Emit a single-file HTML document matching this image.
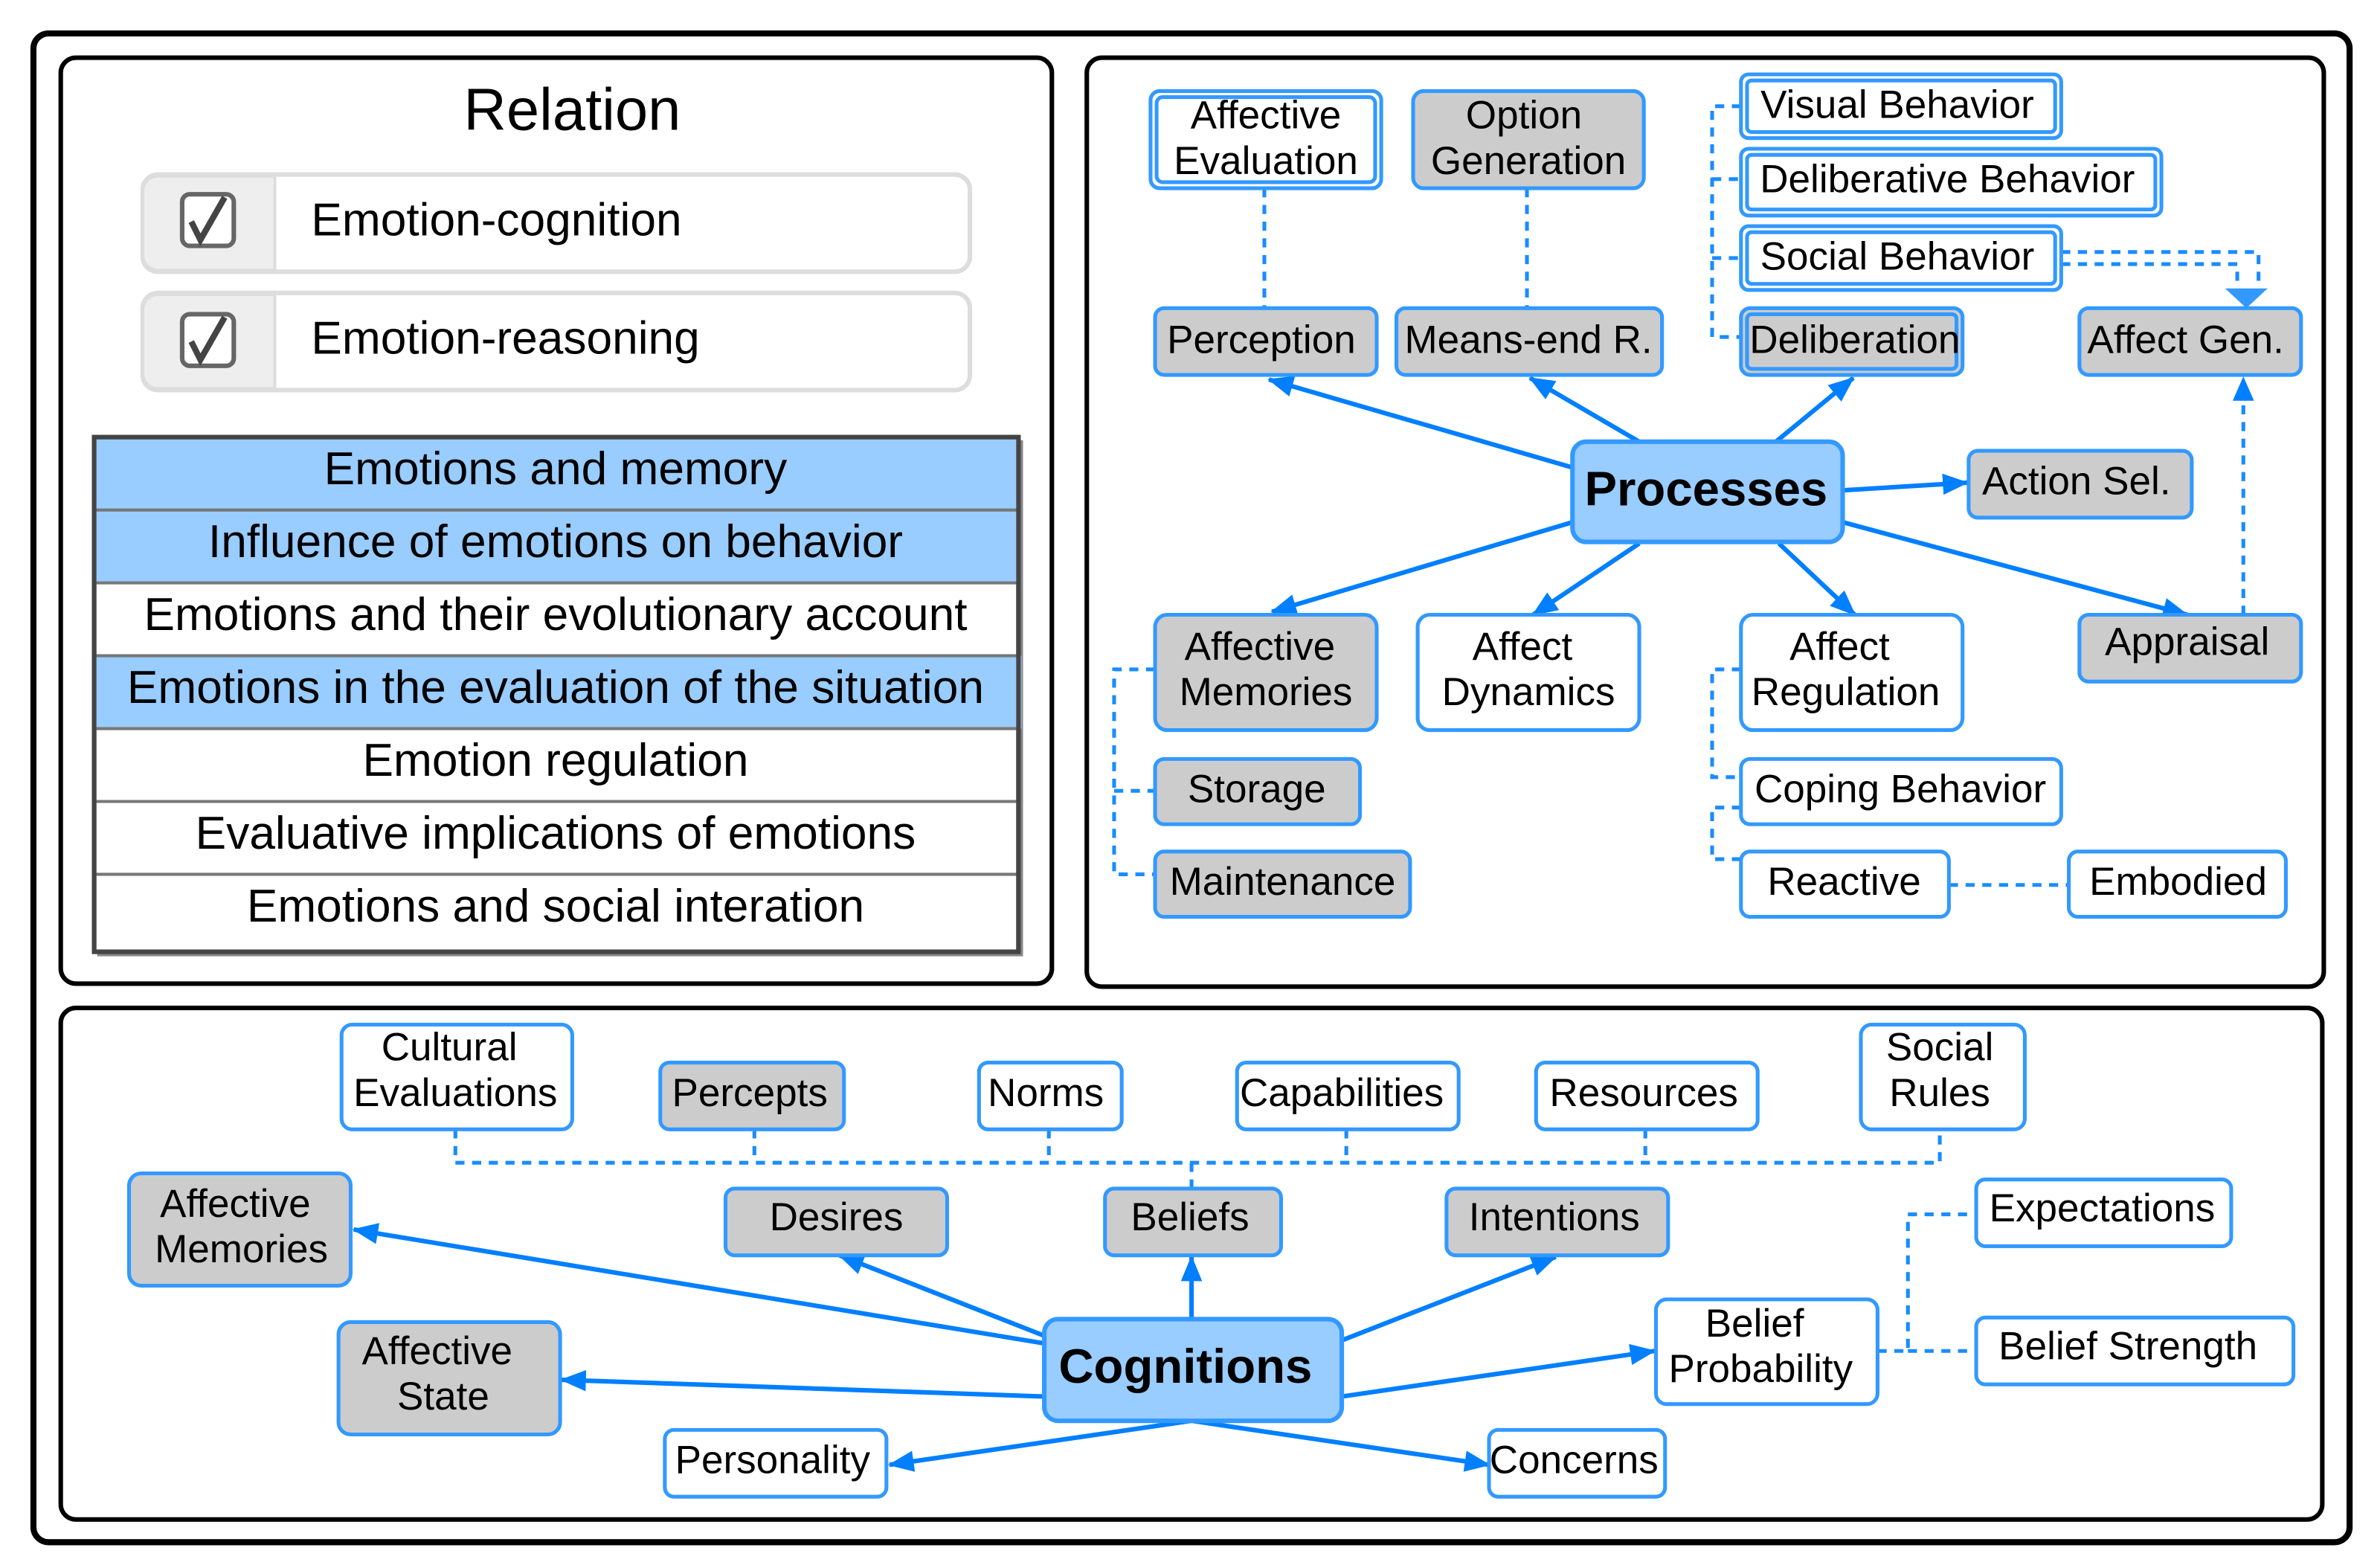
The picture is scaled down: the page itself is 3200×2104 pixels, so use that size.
<!DOCTYPE html>
<html><head><meta charset="utf-8"><style>
html,body{margin:0;padding:0;background:#fff}
svg{display:block}
text{font-family:"Liberation Sans",Arial,sans-serif;fill:#000}
.b{fill:#fff;stroke:#3399ff;stroke-width:2.5}
.g{fill:#cccccc;stroke:#3399ff;stroke-width:2.5}
.l{fill:#99ccff;stroke:#3399ff;stroke-width:3}
.e{stroke:#007fff;stroke-width:3;fill:none}
.d{stroke:#1a8cff;stroke-width:2.5;fill:none;stroke-dasharray:6 5}
.t{font-size:26px;text-anchor:middle;dominant-baseline:central}
.r{font-size:30.5px;text-anchor:middle;dominant-baseline:central}
</style></head><body>
<svg width="3200" height="2104" viewBox="0 0 1568 1031" xmlns="http://www.w3.org/2000/svg">
<defs>
<marker id="a" markerUnits="userSpaceOnUse" markerWidth="18" markerHeight="14" refX="16" refY="7" orient="auto"><path d="M0,0 L17,7 L0,14 Z" fill="#007fff"/></marker>
</defs>
<rect x="22" y="22" width="1526" height="994" rx="10" fill="#fff" stroke="#000" stroke-width="4"/>
<rect x="40" y="38" width="653" height="610" rx="10" fill="#fff" stroke="#000" stroke-width="3"/>
<rect x="716" y="38" width="815" height="612" rx="10" fill="#fff" stroke="#000" stroke-width="3"/>
<rect x="40" y="664" width="1490" height="337" rx="10" fill="#fff" stroke="#000" stroke-width="3"/>

<text x="377" y="72" style="font-size:39px;text-anchor:middle;dominant-baseline:central">Relation</text>
<g>
<rect x="94" y="115" width="545" height="64" rx="10" fill="#fff" stroke="#ddd" stroke-width="3"/>
<path d="M181,116 V178 H104 a10,10 0 0 1 -10,-10 V126 a10,10 0 0 1 10,-10 Z" fill="#eee" stroke="#ddd" stroke-width="2"/>
<rect x="120" y="128" width="34" height="34" rx="5" fill="#fff" stroke="#666" stroke-width="3"/>
<path d="M126,146 L132,158 L148,130" stroke="#444" stroke-width="4" fill="none"/>
<text x="205" y="145" style="font-size:30.5px;dominant-baseline:central">Emotion-cognition</text>
<rect x="94" y="193" width="545" height="64" rx="10" fill="#fff" stroke="#ddd" stroke-width="3"/>
<path d="M181,194 V256 H104 a10,10 0 0 1 -10,-10 V204 a10,10 0 0 1 10,-10 Z" fill="#eee" stroke="#ddd" stroke-width="2"/>
<rect x="120" y="207" width="34" height="34" rx="5" fill="#fff" stroke="#666" stroke-width="3"/>
<path d="M126,225 L132,237 L148,209" stroke="#444" stroke-width="4" fill="none"/>
<text x="205" y="223" style="font-size:30.5px;dominant-baseline:central">Emotion-reasoning</text>
</g>
<rect x="64" y="290" width="610" height="340" fill="#888"/>
<rect x="62" y="288" width="609" height="339" fill="#fff" stroke="#444" stroke-width="3"/>
<rect x="62" y="288" width="609" height="48" fill="#99ccff"/>
<rect x="62" y="336" width="609" height="48" fill="#99ccff"/>
<rect x="62" y="432" width="611" height="48" fill="#99ccff"/>
<g stroke="#777" stroke-width="2">
<line x1="62" y1="336" x2="671" y2="336"/><line x1="62" y1="384" x2="671" y2="384"/>
<line x1="62" y1="432" x2="671" y2="432"/><line x1="62" y1="480" x2="671" y2="480"/>
<line x1="62" y1="528" x2="671" y2="528"/><line x1="62" y1="576" x2="671" y2="576"/>
</g>
<rect x="62" y="288" width="609" height="339" fill="none" stroke="#444" stroke-width="3"/>
<text class="r" x="366" y="309">Emotions and memory</text>
<text class="r" x="366" y="357">Influence of emotions on behavior</text>
<text class="r" x="366" y="405">Emotions and their evolutionary account</text>
<text class="r" x="366" y="453">Emotions in the evaluation of the situation</text>
<text class="r" x="366" y="501">Emotion regulation</text>
<text class="r" x="366" y="549">Evaluative implications of emotions</text>
<text class="r" x="366" y="597">Emotions and social interation</text>

<path class="d" d="M833,124 V203"/><path class="d" d="M1006,124 V203"/>
<path class="d" d="M1147,70 H1128 V222 H1147 M1128,118 H1147 M1128,170 H1147"/>
<path class="d" d="M1358,166 H1488 V190 M1358,174 H1474 V190"/>
<path d="M1466,190 L1494,190 L1480,203 Z" fill="#3399ff"/>
<path class="d" d="M1478,405 V262"/>
<path d="M1471,264 L1478,248 L1485,264 Z" fill="#007fff"/>
<path class="d" d="M761,441 H734 V576 H761 M734,521 H761"/>
<path class="d" d="M1147,441 H1128 V512 H1147 M1147,532 H1128 V566 H1147"/>
<path class="d" d="M1284,583 H1363"/>
<line class="e" x1="1036" y1="308" x2="836" y2="250" marker-end="url(#a)"/>
<line class="e" x1="1080" y1="291" x2="1008" y2="249" marker-end="url(#a)"/>
<line class="e" x1="1170" y1="291" x2="1221" y2="249" marker-end="url(#a)"/>
<line class="e" x1="1214" y1="323" x2="1296" y2="318" marker-end="url(#a)"/>
<line class="e" x1="1036" y1="344" x2="838" y2="403" marker-end="url(#a)"/>
<line class="e" x1="1080" y1="358" x2="1010" y2="405" marker-end="url(#a)"/>
<line class="e" x1="1172" y1="358" x2="1222" y2="405" marker-end="url(#a)"/>
<line class="e" x1="1214" y1="344" x2="1441" y2="405" marker-end="url(#a)"/>

<rect class="b" x="758" y="60" width="152" height="64" rx="6"/><rect class="b" x="762" y="64" width="144" height="56" rx="4"/>
<text class="t" x="834" y="76">Affective</text><text class="t" x="834" y="106">Evaluation</text>
<rect class="g" x="931" y="60" width="152" height="64" rx="7"/>
<text class="t" x="1004" y="76">Option</text><text class="t" x="1007" y="106">Generation</text>
<rect class="b" x="1147" y="49" width="211" height="42" rx="5"/><rect class="b" x="1151" y="53" width="203" height="34" rx="3"/>
<text class="t" x="1250" y="69">Visual Behavior</text>
<rect class="b" x="1147" y="98" width="277" height="44" rx="5"/><rect class="b" x="1151" y="102" width="269" height="36" rx="3"/>
<text class="t" x="1283" y="118">Deliberative Behavior</text>
<rect class="b" x="1147" y="149" width="211" height="42" rx="5"/><rect class="b" x="1151" y="153" width="203" height="34" rx="3"/>
<text class="t" x="1250" y="169">Social Behavior</text>
<rect class="g" x="761" y="203" width="146" height="44" rx="6"/><text class="t" x="831" y="224">Perception</text>
<rect class="g" x="920" y="203" width="175" height="44" rx="6"/><text class="t" x="1007" y="224">Means-end R.</text>
<rect class="g" x="1147" y="203" width="146" height="44" rx="6"/><rect class="g" x="1151" y="207" width="138" height="36" rx="3"/>
<text class="t" x="1222" y="224">Deliberation</text>
<rect class="g" x="1370" y="203" width="146" height="44" rx="6"/><text class="t" x="1440" y="224">Affect Gen.</text>
<rect class="l" x="1036" y="291" width="178" height="66" rx="9"/>
<text x="1124" y="322" style="font-size:32px;font-weight:bold;text-anchor:middle;dominant-baseline:central">Processes</text>
<rect class="g" x="1297" y="297" width="147" height="44" rx="6"/><text class="t" x="1368" y="317">Action Sel.</text>
<rect class="g" x="761" y="405" width="146" height="76" rx="8"/>
<text class="t" x="830" y="426">Affective</text><text class="t" x="834" y="456">Memories</text>
<rect class="b" x="934" y="405" width="146" height="76" rx="8"/>
<text class="t" x="1003" y="426">Affect</text><text class="t" x="1007" y="456">Dynamics</text>
<rect class="b" x="1147" y="405" width="146" height="76" rx="8"/>
<text class="t" x="1212" y="426">Affect</text><text class="t" x="1216" y="456">Regulation</text>
<rect class="g" x="1370" y="405" width="146" height="44" rx="6"/><text class="t" x="1441" y="423">Appraisal</text>
<rect class="g" x="761" y="500" width="135" height="43" rx="6"/><text class="t" x="828" y="520">Storage</text>
<rect class="b" x="1147" y="500" width="211" height="43" rx="6"/><text class="t" x="1252" y="520">Coping Behavior</text>
<rect class="g" x="761" y="561" width="168" height="43" rx="6"/><text class="t" x="845" y="581">Maintenance</text>
<rect class="b" x="1147" y="561" width="137" height="43" rx="6"/><text class="t" x="1215" y="581">Reactive</text>
<rect class="b" x="1363" y="561" width="143" height="43" rx="6"/><text class="t" x="1435" y="581">Embodied</text>

<path class="d" d="M300,744 V766 H1278 V744 M497,744 V766 M691,744 V766 M887,744 V766 M1084,744 V766 M785,766 V783"/>
<path class="d" d="M1237,890 H1257 V800 H1302 M1257,890 H1302"/>
<line class="e" x1="688" y1="885" x2="233" y2="810" marker-end="url(#a)"/>
<line class="e" x1="688" y1="880" x2="553" y2="827" marker-end="url(#a)"/>
<line class="e" x1="785" y1="869" x2="785" y2="828" marker-end="url(#a)"/>
<line class="e" x1="884" y1="883" x2="1025" y2="828" marker-end="url(#a)"/>
<line class="e" x1="688" y1="920" x2="370" y2="909" marker-end="url(#a)"/>
<line class="e" x1="884" y1="920" x2="1090" y2="890" marker-end="url(#a)"/>
<line class="e" x1="785" y1="936" x2="586" y2="965" marker-end="url(#a)"/>
<line class="e" x1="785" y1="936" x2="981" y2="965" marker-end="url(#a)"/>

<rect class="b" x="225" y="675" width="152" height="69" rx="7"/>
<text class="t" x="296" y="690">Cultural</text><text class="t" x="300" y="720">Evaluations</text>
<rect class="g" x="435" y="700" width="121" height="44" rx="6"/><text class="t" x="494" y="720">Percepts</text>
<rect class="b" x="645" y="700" width="94" height="44" rx="6"/><text class="t" x="689" y="720">Norms</text>
<rect class="b" x="815" y="700" width="146" height="44" rx="6"/><text class="t" x="884" y="720">Capabilities</text>
<rect class="b" x="1012" y="700" width="146" height="44" rx="6"/><text class="t" x="1083" y="720">Resources</text>
<rect class="b" x="1226" y="675" width="108" height="69" rx="7"/>
<text class="t" x="1278" y="690">Social</text><text class="t" x="1278" y="720">Rules</text>
<rect class="g" x="85" y="773" width="146" height="74" rx="8"/>
<text class="t" x="155" y="793">Affective</text><text class="t" x="159" y="823">Memories</text>
<rect class="g" x="478" y="783" width="146" height="44" rx="6"/><text class="t" x="551" y="802">Desires</text>
<rect class="g" x="728" y="783" width="116" height="44" rx="6"/><text class="t" x="784" y="802">Beliefs</text>
<rect class="g" x="953" y="783" width="146" height="44" rx="6"/><text class="t" x="1024" y="802">Intentions</text>
<rect class="b" x="1302" y="777" width="168" height="44" rx="6"/><text class="t" x="1385" y="796">Expectations</text>
<rect class="l" x="688" y="869" width="196" height="67" rx="9"/>
<text x="781" y="900" style="font-size:32px;font-weight:bold;text-anchor:middle;dominant-baseline:central">Cognitions</text>
<rect class="g" x="223" y="871" width="146" height="74" rx="8"/>
<text class="t" x="288" y="890">Affective</text><text class="t" x="292" y="920">State</text>
<rect class="b" x="1091" y="856" width="146" height="69" rx="7"/>
<text class="t" x="1156" y="872">Belief</text><text class="t" x="1160" y="902">Probability</text>
<rect class="b" x="1302" y="868" width="209" height="44" rx="6"/><text class="t" x="1402" y="887">Belief Strength</text>
<rect class="b" x="438" y="942" width="146" height="44" rx="6"/><text class="t" x="509" y="962">Personality</text>
<rect class="b" x="981" y="942" width="116" height="44" rx="6"/><text class="t" x="1037" y="962">Concerns</text>
</svg>
</body></html>
